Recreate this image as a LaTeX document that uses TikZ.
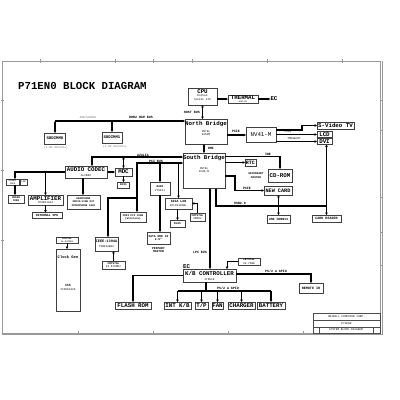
\documentclass[tikz,border=0pt]{standalone}
\usepackage{fontspec}
\setmonofont{Liberation Mono}
\usetikzlibrary{arrows.meta}
\newcommand\fBig{\ttfamily\bfseries\fontsize{5.8}{6}\selectfont}
\newcommand\fMid{\ttfamily\bfseries\fontsize{3.6}{4}\selectfont}
\newcommand\fSm{\ttfamily\fontsize{2.8}{3.3}\selectfont}
\newcommand\fLbl{\ttfamily\bfseries\fontsize{3.3}{3.8}\selectfont}
\begin{document}
\begin{tikzpicture}[x=1pt,y=-1pt,
  >={Triangle[length=2.4pt,width=2.4pt]},
  box/.style={draw=black!75,line width=0.6pt,inner sep=0pt,outer sep=0pt,align=center,fill=white},
  sz/.style 2 args={minimum width=#1pt,minimum height=#2pt},
  tx/.style={inner sep=0pt,align=center},
  bus/.style={line width=1.1pt,black},
  thinl/.style={line width=0.6pt,black},
  frame/.style={draw=black!40,line width=0.8pt}]
\useasboundingbox[fill=white] (0,0) rectangle (400,400);
% frame
\draw[frame] (2,61) rectangle (380,333);
\draw[frame] (382,61) -- (382,334) -- (2,334);
\foreach \x in {40,115,153,192,267,342} \draw[frame] (\x,59) -- (\x,63);
\foreach \x in {78,153,228,303} \draw[frame] (\x,331) -- (\x,335);
\foreach \y in {100,130,197,232,265} \draw[frame] (380,\y) -- (383,\y);
\foreach \y in {100,170,240} \draw[frame] (1,\y) -- (4,\y);
% title
\node[tx,anchor=west,font=\ttfamily\bfseries\fontsize{10.7}{12}\selectfont] (title) at (18,86) {P71EN0 BLOCK DIAGRAM};
% CPU / thermal
\node[box,sz={29}{17}] (cpu) at (202.5,96.5) {};
\node[tx,font=\fBig] (cput) at (202.5,91.5) {CPU};
\node[tx,font=\fSm] (cpus) at (202.5,97.5) {Dothan\\Socket 479};
\node[box,sz={30}{8}] (thermal) at (243,99) {};
\node[tx,font=\fBig] (thermt) at (243,98) {THERMAL};
\node[tx,font=\ttfamily\fontsize{2}{2.2}\selectfont] (therms) at (243,102) {ADM1032};
\node[tx,font=\fBig] (ec) at (274,99) {EC};
\draw[bus,->] (cpu.east |- thermal.west) -- (thermal.west);
\draw[bus,->] (thermal.east) -- (ec.west);
% North bridge
\node[box,sz={42}{25}] (nb) at (206,131.5) {};
\node[tx,font=\fBig] (nbt) at (206,124) {North Bridge};
\node[tx,font=\fSm] (nbs) at (206,133) {INTEL\\915PM};
\draw[bus,<->] (cpu.south) -- (cpu.south |- nb.north);
\node[tx,font=\fLbl,anchor=east] (hostl) at (200,112.5) {HOST BUS};
% DDR
\coordinate (ddrL) at (55,121);
\draw[bus,->] (ddrL) -- (ddrL -| nb.west);
\node[tx,font=\fLbl] (ddrl) at (141,117.5) {DDR2 RAM BUS};
\node[tx,font=\fSm,text=black!60] (ddrf) at (88,117.5) {400/533MHz};
\node[box,sz={21}{11},font=\ttfamily\bfseries\fontsize{4}{4.5}\selectfont] (sodimm0) at (55,138.5) {SODIMM0};
\node[box,sz={20}{11},font=\ttfamily\bfseries\fontsize{4}{4.5}\selectfont] (sodimm1) at (112,137.5) {SODIMM1};
\draw[bus,<->] (sodimm0.north) -- (sodimm0.north |- ddrL);
\draw[bus,<->] (sodimm1.north) -- (sodimm1.north |- ddrL);
\node[tx,font=\fSm,text=black!60] (s0l) at (56,148) {(1.8V Sockets)};
\node[tx,font=\fSm,text=black!60] (s1l) at (115,146.5) {(1.8V Sockets)};
% NV41-M and outputs
\node[box,sz={30}{15},font=\ttfamily\fontsize{5.8}{6}\selectfont] (nv) at (261,135) {NV41-M};
\draw[bus,->] (nb.east |- nv.west) -- (nv.west);
\node[tx,font=\fLbl] (pciel1) at (236,131.5) {PCIE};
\node[box,sz={37}{7},font=\fBig] (svideo) at (335.5,125.5) {S-Video TV};
\node[box,sz={15}{6},font=\fBig] (lcd) at (324.5,134.5) {LCD};
\node[box,sz={15}{6},font=\fBig] (dvi) at (324.5,141.5) {DVI};
\draw[bus,->] ([yshift=5pt]nv.east) -- ++(26,0) |- (svideo.west);
\draw[bus,->] (nv.east |- lcd.west) -- (lcd.west);
\draw[bus,->] (nv.east |- dvi.west) -- (dvi.west);
\node[tx,font=\fSm] (lvdsl) at (288,132) {LVDS};
\node[tx,font=\fSm] (tmdsl) at (294,139) {TMDS\&CRT};
% South bridge
\node[box,sz={42}{35}] (sb) at (204,170.5) {};
\node[tx,font=\fBig] (sbt) at (204,158) {South Bridge};
\node[tx,font=\fSm] (sbs) at (204,170) {INTEL\\ICH6-M};
\draw[bus,<->] (sb.north) -- (sb.north |- nb.south);
\node[tx,font=\fLbl] (dmil) at (211,148.5) {DMI};
\node[box,sz={11}{7},font=\ttfamily\bfseries\fontsize{5}{5.5}\selectfont] (rtc) at (250.5,162.5) {RTC};
\draw[bus,->] (sb.east |- rtc.west) -- (rtc.west);
\node[box,sz={24}{13},font=\fBig] (cdrom) at (280,175.5) {CD-ROM};
\draw[bus,->] ([yshift=-3.5pt]sb.north east) -| (cdrom.north);
\node[tx,font=\fLbl] (idel) at (268,154.5) {IDE};
\node[tx,font=\ttfamily\bfseries\fontsize{2.8}{3.3}\selectfont] (secm) at (256,175.5) {SECONDARY\\MASTER};
\node[box,sz={28}{9},font=\ttfamily\bfseries\fontsize{5.2}{5.5}\selectfont] (newcard) at (278,190.5) {NEW CARD};
\draw[bus,->] ([yshift=-23pt]sb.north east) -- ++(10,0) |- (newcard.west);
\node[tx,font=\fLbl] (pciel2) at (247,188) {PCIE};
\node[box,sz={29}{7},font=\ttfamily\bfseries\fontsize{3.4}{3.8}\selectfont] (cardreader) at (326.5,218.5) {CARD READER};
\node[box,sz={23}{8},font=\ttfamily\bfseries\fontsize{3.2}{3.6}\selectfont] (usbconn) at (278.5,219) {USB CONNx3};
\coordinate (usbR) at (326.5,206);
\draw[bus,<-] ([xshift=12pt]sb.south) |- (usbR);
\draw[bus,<->] (dvi.south -| cardreader.north) -- (cardreader.north);
\draw[bus,<->] (newcard.south -| usbconn.north) -- (usbconn.north);
\node[tx,font=\fLbl] (usbl) at (240,203.5) {USB2.0};
% KBC
\node[box,sz={53}{13}] (kbc) at (209.5,275.5) {};
\node[tx,font=\fBig] (kbct) at (209.5,273) {K/B CONTROLLER};
\node[tx,font=\fSm] (kbcs) at (209.5,279.5) {IT8510};
\node[tx,font=\fBig,anchor=west] (ecl) at (183,267) {EC};
\draw[bus,<->] ([xshift=6pt]sb.south) -- ([xshift=6pt]sb.south |- kbc.north);
\node[tx,font=\fLbl] (lpcl) at (200,252) {LPC BUS};
\node[box,sz={22}{7},font=\fSm] (kbccry) at (249,261.5) {{\bfseries CRYSTAL}\\32.768K};
\draw[thinl,->] (kbccry.west) -| ([xshift=17.5pt]kbc.north);
\node[box,sz={24}{10},font=\ttfamily\bfseries\fontsize{3.4}{3.8}\selectfont] (remoteir) at (311,288) {REMOTE IR};
\draw[bus,->] ([yshift=1.5pt]kbc.east) -| (remoteir.north);
\node[tx,font=\fLbl] (ps2r) at (276,271.5) {PS/2 \& GPIO};
\node[box,sz={36}{7},font=\fBig] (flash) at (133,305.5) {FLASH ROM};
\node[box,sz={27}{7},font=\fBig] (intkb) at (177.5,305.5) {INT K/B};
\node[box,sz={13}{7},font=\fBig] (tp) at (201.5,305.5) {T/P};
\node[box,sz={11}{7},font=\fBig] (fan) at (217.5,305.5) {FAN};
\node[box,sz={27}{7},font=\fBig] (charger) at (241.5,305.5) {CHARGER};
\node[box,sz={28}{7},font=\fBig] (battery) at (271,305.5) {BATTERY};
\coordinate (kb) at (206,291);
\draw[bus] ([xshift=-3.5pt]kbc.south) -- (kb);
\draw[bus] (intkb.north |- kb) -- (battery.north |- kb);
\foreach \n in {intkb,tp,fan,charger,battery} \draw[bus,->] (\n.north |- kb) -- (\n.north);
\node[tx,font=\fLbl] (ps2b) at (228,288.5) {PS/2 \& GPIO};
\draw[bus,->] (kbc.west) -| (flash.north);
% Audio
\node[box,sz={42}{12}] (codec) at (86,172) {};
\node[tx,font=\fBig] (codect) at (86,169.5) {AUDIO CODEC};
\node[tx,font=\fSm] (codecs) at (86,175.5) {ALC880};
\node[box,sz={17}{8},font=\fBig] (mdc) at (123.5,172) {MDC};
\node[box,sz={12}{6},font=\ttfamily\bfseries\fontsize{2.8}{3.3}\selectfont] (rj11) at (123.5,185) {RJ11};
\coordinate (az) at (92,157);
\draw[bus,<->] (codec.north -| az) -- (az) -- (az -| sb.west);
\node[tx,font=\fLbl] (azl) at (143,155) {AZALIA};
\draw[bus,<->] (mdc.north) -- (mdc.north |- az);
\draw[bus,<->] (codec.east) -- (mdc.west);
\draw[bus,->] (mdc.south) -- (rj11.north);
\node[box,sz={13}{6},font=\ttfamily\fontsize{2.4}{2.7}\selectfont] (mb1) at (12.5,182) {MODEM\\JACK};
\node[box,sz={7}{6},font=\ttfamily\fontsize{2.4}{2.7}\selectfont] (mb2) at (23.5,182) {LAN};
\node[box,sz={16}{8},font=\ttfamily\bfseries\fontsize{2.6}{3}\selectfont] (mb3) at (16,199) {MODEM\\CONN};
\coordinate (al) at (15,172);
\draw[bus,->] (codec.west) -- (al) -- (al |- mb1.north);
\draw[bus,->] ([xshift=2.5pt]mb1.south) -- ([xshift=2.5pt]mb1.south |- mb3.north);
\node[box,sz={35}{10}] (amp) at (45.5,200) {};
\node[tx,font=\fBig] (ampt) at (45.5,198.5) {AMPLIFIER};
\node[tx,font=\fSm] (amps) at (45.5,203) {TPA6011A4};
\draw[bus,->] (amp.north |- al) -- (amp.north);
\node[box,sz={30}{6},font=\ttfamily\bfseries\fontsize{3.1}{3.5}\selectfont] (intspk) at (47,215.5) {INTERNAL SPK};
\draw[bus,->] (amp.south) -- (amp.south |- intspk.north);
\node[box,sz={33}{14},font=\ttfamily\bfseries\fontsize{2.6}{3.2}\selectfont] (hp) at (83.5,202) {HEADPHONE\\SPDIF/LINE OUT\\MICROPHONE JACK};
\draw[bus,->] ([xshift=-3pt]codec.south) -- ([xshift=-3pt]codec.south |- hp.north);
% PCI
\node[box,sz={26}{10},font=\ttfamily\bfseries\fontsize{2.6}{3.2}\selectfont] (minipci) at (133,217) {MINI PCI CONN\\(Wireless)};
\coordinate (pc) at (137,163);
\draw[bus,<->] (minipci.north -| pc) -- (pc) -- (pc -| sb.west);
\node[tx,font=\fLbl] (pcil) at (156,161) {PCI BUS};
\node[box,sz={23}{14}] (ieee) at (106.5,244) {};
\node[tx,font=\fMid] (ieeet) at (106.5,241) {IEEE-1394A};
\node[tx,font=\fSm] (ieees) at (106.5,247) {TSB43AB22};
\coordinate (pb) at (137,198);
\draw[bus,->] (pb) -| ([xshift=1.5pt]ieee.north);
\node[box,sz={23}{8},font=\fSm] (ieeecry) at (113.5,265) {{\bfseries CRYSTAL}\\24.576MHz};
\draw[thinl,->] (ieeecry.north) -- (ieeecry.north |- ieee.south);
\node[box,sz={20}{13},font=\fSm] (raid) at (160,188.5) {{\bfseries RAID}\\VT6421};
\draw[bus,->] (raid.north |- pc) -- (raid.north);
\node[box,sz={23}{12},font=\ttfamily\bfseries\fontsize{3}{3.6}\selectfont] (sata) at (158.5,238) {SATA HDD X2\\2.5"};
\draw[bus,->] (raid.south) -- (raid.south |- sata.north);
\node[tx,font=\ttfamily\bfseries\fontsize{3}{3.6}\selectfont] (prim) at (158.5,250) {PRIMARY\\MASTER};
\node[box,sz={27}{11},font=\fSm] (gigalan) at (178.5,203.5) {{\bfseries\fontsize{3.2}{3.8}\selectfont GIGA LAN}\\RTL8110SBL};
\draw[bus,->] (gigalan.north |- pc) -- (gigalan.north);
\node[box,sz={15}{7},font=\ttfamily\bfseries\fontsize{2.8}{3.3}\selectfont] (rj45) at (177.5,223.5) {RJ45};
\draw[bus,->] (gigalan.south -| rj45.north) -- (rj45.north);
\node[box,sz={15}{8},font=\fSm] (lancry) at (197.5,217) {{\bfseries CRYSTAL}\\25MHz};
\draw[thinl,->] (lancry.north) |- (gigalan.east);
% Clock gen
\node[box,sz={22}{6},font=\ttfamily\fontsize{2.3}{2.6}\selectfont] (clkcry) at (67,240) {{\bfseries CRYSTAL}\\14.318MHz};
\node[box,sz={24}{62}] (clk) at (68,280) {};
\node[tx,font=\ttfamily\bfseries\fontsize{3.8}{4.2}\selectfont] (clkt) at (68,257) {Clock Gen};
\node[tx,font=\ttfamily\bfseries\fontsize{3.2}{3.6}\selectfont] (clks) at (68,285) {ICS};
\node[tx,font=\fSm] (clks2) at (68,289.5) {ICS954226};
\draw[thinl,->] (clkcry.south) -- (clkcry.south |- clk.north);
% title block
\draw[line width=0.6pt,black!70] (313,313) rectangle (380,333);
\draw[line width=0.5pt,black!70] (313,320) -- (380,320) (313,327) -- (380,327) (319,327) -- (319,333) (373,327) -- (373,333);
\node[tx,font=\ttfamily\fontsize{2.8}{3}\selectfont] (tb1) at (346.5,316.5) {UNIWILL COMPUTER CORP.};
\node[tx,font=\ttfamily\fontsize{2.8}{3}\selectfont] (tb2) at (346.5,323.5) {P71EN0};
\node[tx,font=\ttfamily\fontsize{2.8}{3}\selectfont] (tb3) at (346,330) {SYSTEM BLOCK DIAGRAM};
\end{tikzpicture}
\end{document}
